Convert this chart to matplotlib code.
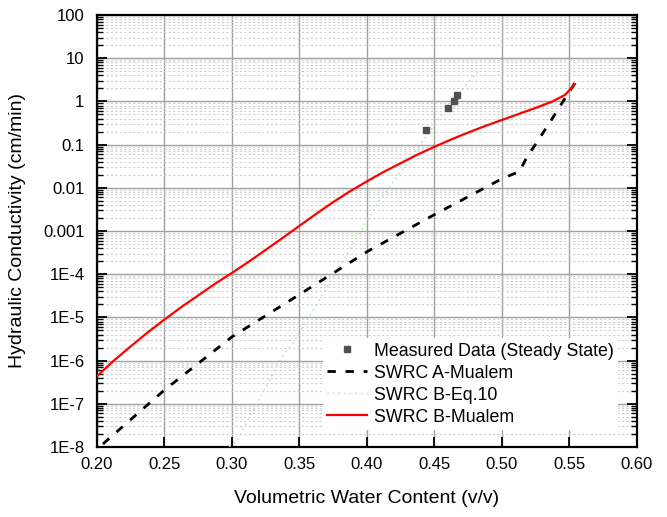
import matplotlib
matplotlib.use('Agg')
import matplotlib.pyplot as plt
import matplotlib.ticker as mticker
import numpy as np

plt.rcParams['font.family'] = ['Liberation Sans', 'DejaVu Sans']

# measured data (steady state)
meas_x = [0.4437, 0.4600, 0.4644, 0.4667]
meas_k = [0.22, 0.71, 1.02, 1.41]

# SWRC A-Mualem (log10 K)
a_x = [0.2044, 0.25, 0.30, 0.35, 0.40, 0.45, 0.50, 0.513, 0.5185, 0.527, 0.5356, 0.5444, 0.554]
a_logk = [-7.93, -6.68, -5.45, -4.47, -3.48, -2.62, -1.79, -1.62, -1.29, -0.89, -0.48, -0.04, 0.42]

# SWRC B-Eq.10 (log10 K)
b10_x = [0.2980, 0.3037, 0.3378, 0.3444, 0.3815, 0.408, 0.426, 0.454, 0.475, 0.482]
b10_logk = [-8.0, -7.85, -5.87, -5.64, -3.72, -2.35, -1.59, -0.36, 0.45, 0.68]

# SWRC B-Mualem (log10 K)
bm_x = [0.20, 0.2125, 0.225, 0.2375, 0.25, 0.2625, 0.276, 0.2875, 0.30, 0.3125, 0.3244, 0.3375,
        0.35, 0.3625, 0.375, 0.3875, 0.40, 0.4125, 0.425, 0.4375, 0.45, 0.4625, 0.475, 0.4875,
        0.50, 0.5125, 0.525, 0.5375, 0.5467, 0.554]
bm_logk = [-6.36, -6.00, -5.67, -5.35, -5.05, -4.76, -4.47, -4.22, -3.97, -3.71, -3.45, -3.16,
           -2.88, -2.60, -2.33, -2.08, -1.85, -1.63, -1.43, -1.23, -1.05, -0.88, -0.72, -0.57,
           -0.43, -0.29, -0.15, 0.00, 0.15, 0.40]

ytick_vals = [1e-8, 1e-7, 1e-6, 1e-5, 1e-4, 1e-3, 1e-2, 1e-1, 1, 10, 100]
ytick_labels = ['1E-8', '1E-7', '1E-6', '1E-5', '1E-4', '0.001', '0.01', '0.1', '1', '10', '100']
xtick_vals = [0.20, 0.25, 0.30, 0.35, 0.40, 0.45, 0.50, 0.55, 0.60]

fig = plt.figure(figsize=(6.67, 5.17), dpi=100)
ax = fig.add_axes([0.1454, 0.1354, 0.8096, 0.8356])

ax.plot(meas_x, meas_k, 's', color='#505050', ms=4.5, ls='none',
        label='Measured Data (Steady State)', zorder=5)
ax.plot(a_x, 10 ** np.array(a_logk), color='black', lw=2, dashes=(3, 3.5),
        label='SWRC A-Mualem', zorder=4)
ax.plot(b10_x, 10 ** np.array(b10_logk), color='#9be89b', lw=1, ls=(0, (1, 3)),
        label='SWRC B-Eq.10', zorder=3)
ax.plot(bm_x, 10 ** np.array(bm_logk), color='red', lw=1.6,
        label='SWRC B-Mualem', zorder=4)

ax.set_yscale('log')
ax.set_xlim(0.20, 0.60)
ax.set_ylim(1e-8, 100)
ax.yaxis.set_major_locator(mticker.FixedLocator(ytick_vals))
ax.yaxis.set_major_formatter(mticker.FixedFormatter(ytick_labels))
ax.yaxis.set_minor_locator(mticker.LogLocator(base=10, subs=np.arange(2, 10), numticks=20))
ax.yaxis.set_minor_formatter(mticker.NullFormatter())
ax.xaxis.set_major_locator(mticker.FixedLocator(xtick_vals))
ax.xaxis.set_major_formatter(mticker.FormatStrFormatter('%.2f'))

ax.grid(True, which='major', color='#a0a0a0', lw=1.0)
ax.grid(True, which='minor', axis='y', color='#cfcfcf', lw=0.8, ls=(0, (2, 2)))
ax.set_axisbelow(True)

ax.tick_params(which='major', direction='in', length=7, width=1.3, labelsize=12,
               right=True, top=False)
ax.tick_params(axis='y', which='major', pad=9)
ax.tick_params(axis='x', which='major', pad=7)
ax.tick_params(which='minor', direction='in', length=4, width=1.0, right=True)
for s in ax.spines.values():
    s.set_linewidth(1.6)

ax.set_xlabel('Volumetric Water Content (v/v)', fontsize=14, labelpad=13)
ax.set_ylabel('Hydraulic Conductivity (cm/min)', fontsize=14, labelpad=12)

leg = ax.legend(loc='upper left', bbox_to_anchor=(0.4185, 0.252), fontsize=12.8,
                frameon=True, fancybox=False, edgecolor='none', facecolor='white',
                framealpha=1, borderaxespad=0, borderpad=0.25, handlelength=2.2,
                labelspacing=0.28, handletextpad=0.4)
leg.set_zorder(10)

fig.savefig('out.png', dpi=100)
